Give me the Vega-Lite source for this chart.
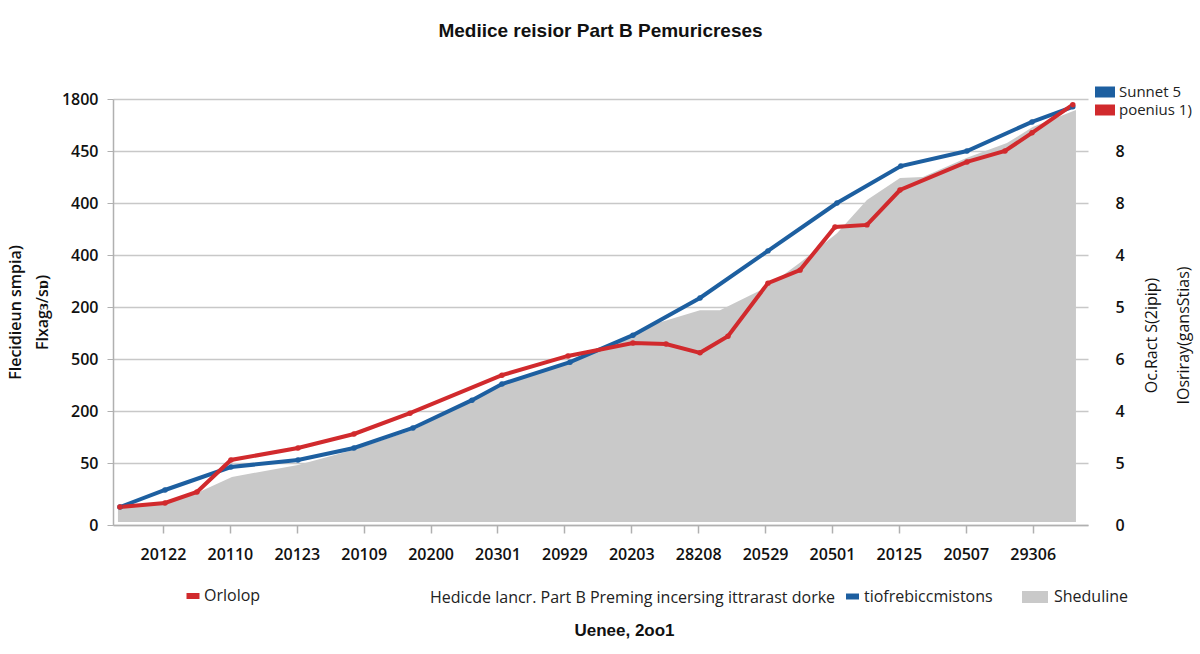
{
  "$schema": "https://vega.github.io/schema/vega-lite/v6.json",
  "width": 975,
  "height": 426,
  "autosize": {"type": "none"},
  "padding": {"left": 113, "top": 99, "right": 112, "bottom": 129},
  "background": "white",
  "config": {"view": {"stroke": null}},
  "title": {
    "text": "Mediice reisior Part B Pemuricreses",
    "font": "Liberation Sans",
    "fontSize": 19,
    "fontWeight": "bold",
    "color": "#111",
    "anchor": "middle",
    "offset": 41
  },
  "datasets": {
    "area": [
      {"t": -0.673, "v": 0.327, "g": "Sheduline"},
      {"t": 0.03, "v": 0.44, "g": "Sheduline"},
      {"t": 0.508, "v": 0.615, "g": "Sheduline"},
      {"t": 1.031, "v": 0.923, "g": "Sheduline"},
      {"t": 2.018, "v": 1.154, "g": "Sheduline"},
      {"t": 2.84, "v": 1.442, "g": "Sheduline"},
      {"t": 3.737, "v": 1.827, "g": "Sheduline"},
      {"t": 5.067, "v": 2.69, "g": "Sheduline"},
      {"t": 6.084, "v": 3.115, "g": "Sheduline"},
      {"t": 7.025, "v": 3.65, "g": "Sheduline"},
      {"t": 7.384, "v": 3.88, "g": "Sheduline"},
      {"t": 8.027, "v": 4.13, "g": "Sheduline"},
      {"t": 8.326, "v": 4.13, "g": "Sheduline"},
      {"t": 9.028, "v": 4.575, "g": "Sheduline"},
      {"t": 9.52, "v": 5.04, "g": "Sheduline"},
      {"t": 10.075, "v": 5.61, "g": "Sheduline"},
      {"t": 10.523, "v": 6.25, "g": "Sheduline"},
      {"t": 11.017, "v": 6.67, "g": "Sheduline"},
      {"t": 11.36, "v": 6.69, "g": "Sheduline"},
      {"t": 12.018, "v": 7.06, "g": "Sheduline"},
      {"t": 12.616, "v": 7.345, "g": "Sheduline"},
      {"t": 13.0, "v": 7.65, "g": "Sheduline"},
      {"t": 13.647, "v": 7.98, "g": "Sheduline"}
    ],
    "lines": [
      {"s": "Sunnet 5", "b": "Orlolop", "c": "tiofrebiccmistons", "t": -0.643, "v": 0.346},
      {"s": "Sunnet 5", "b": "Orlolop", "c": "tiofrebiccmistons", "t": 0.03, "v": 0.673},
      {"s": "Sunnet 5", "b": "Orlolop", "c": "tiofrebiccmistons", "t": 1.016, "v": 1.115},
      {"s": "Sunnet 5", "b": "Orlolop", "c": "tiofrebiccmistons", "t": 2.018, "v": 1.25},
      {"s": "Sunnet 5", "b": "Orlolop", "c": "tiofrebiccmistons", "t": 2.855, "v": 1.48},
      {"s": "Sunnet 5", "b": "Orlolop", "c": "tiofrebiccmistons", "t": 3.737, "v": 1.865},
      {"s": "Sunnet 5", "b": "Orlolop", "c": "tiofrebiccmistons", "t": 4.619, "v": 2.4},
      {"s": "Sunnet 5", "b": "Orlolop", "c": "tiofrebiccmistons", "t": 5.067, "v": 2.71},
      {"s": "Sunnet 5", "b": "Orlolop", "c": "tiofrebiccmistons", "t": 6.084, "v": 3.13},
      {"s": "Sunnet 5", "b": "Orlolop", "c": "tiofrebiccmistons", "t": 7.025, "v": 3.65},
      {"s": "Sunnet 5", "b": "Orlolop", "c": "tiofrebiccmistons", "t": 8.027, "v": 4.365},
      {"s": "Sunnet 5", "b": "Orlolop", "c": "tiofrebiccmistons", "t": 9.043, "v": 5.27},
      {"s": "Sunnet 5", "b": "Orlolop", "c": "tiofrebiccmistons", "t": 10.075, "v": 6.19},
      {"s": "Sunnet 5", "b": "Orlolop", "c": "tiofrebiccmistons", "t": 11.03, "v": 6.9},
      {"s": "Sunnet 5", "b": "Orlolop", "c": "tiofrebiccmistons", "t": 12.018, "v": 7.19},
      {"s": "Sunnet 5", "b": "Orlolop", "c": "tiofrebiccmistons", "t": 12.99, "v": 7.75},
      {"s": "Sunnet 5", "b": "Orlolop", "c": "tiofrebiccmistons", "t": 13.6, "v": 8.04},
      {"s": "poenius 1)", "b": "Orlolop", "c": "tiofrebiccmistons", "t": -0.643, "v": 0.346},
      {"s": "poenius 1)", "b": "Orlolop", "c": "tiofrebiccmistons", "t": 0.03, "v": 0.423},
      {"s": "poenius 1)", "b": "Orlolop", "c": "tiofrebiccmistons", "t": 0.508, "v": 0.635},
      {"s": "poenius 1)", "b": "Orlolop", "c": "tiofrebiccmistons", "t": 1.016, "v": 1.25},
      {"s": "poenius 1)", "b": "Orlolop", "c": "tiofrebiccmistons", "t": 2.018, "v": 1.48},
      {"s": "poenius 1)", "b": "Orlolop", "c": "tiofrebiccmistons", "t": 2.855, "v": 1.75},
      {"s": "poenius 1)", "b": "Orlolop", "c": "tiofrebiccmistons", "t": 3.692, "v": 2.15},
      {"s": "poenius 1)", "b": "Orlolop", "c": "tiofrebiccmistons", "t": 5.067, "v": 2.88},
      {"s": "poenius 1)", "b": "Orlolop", "c": "tiofrebiccmistons", "t": 6.054, "v": 3.25},
      {"s": "poenius 1)", "b": "Orlolop", "c": "tiofrebiccmistons", "t": 7.025, "v": 3.5},
      {"s": "poenius 1)", "b": "Orlolop", "c": "tiofrebiccmistons", "t": 7.519, "v": 3.48},
      {"s": "poenius 1)", "b": "Orlolop", "c": "tiofrebiccmistons", "t": 8.027, "v": 3.31},
      {"s": "poenius 1)", "b": "Orlolop", "c": "tiofrebiccmistons", "t": 8.445, "v": 3.63},
      {"s": "poenius 1)", "b": "Orlolop", "c": "tiofrebiccmistons", "t": 9.043, "v": 4.65},
      {"s": "poenius 1)", "b": "Orlolop", "c": "tiofrebiccmistons", "t": 9.522, "v": 4.9},
      {"s": "poenius 1)", "b": "Orlolop", "c": "tiofrebiccmistons", "t": 10.045, "v": 5.73},
      {"s": "poenius 1)", "b": "Orlolop", "c": "tiofrebiccmistons", "t": 10.523, "v": 5.77},
      {"s": "poenius 1)", "b": "Orlolop", "c": "tiofrebiccmistons", "t": 11.017, "v": 6.44},
      {"s": "poenius 1)", "b": "Orlolop", "c": "tiofrebiccmistons", "t": 12.018, "v": 6.98},
      {"s": "poenius 1)", "b": "Orlolop", "c": "tiofrebiccmistons", "t": 12.586, "v": 7.19},
      {"s": "poenius 1)", "b": "Orlolop", "c": "tiofrebiccmistons", "t": 12.99, "v": 7.54},
      {"s": "poenius 1)", "b": "Orlolop", "c": "tiofrebiccmistons", "t": 13.6, "v": 8.08}
    ]
  },
  "resolve": {"scale": {"y": "independent"}},
  "layer": [
    {
      "data": {"name": "area"},
      "mark": {"type": "area", "interpolate": "linear"},
      "encoding": {
        "x": {
          "field": "t",
          "type": "quantitative",
          "title": "Uenee, 2oo1",
          "scale": {"domain": [-0.747, 13.827], "nice": false, "zero": false},
          "axis": {
            "values": [0, 1, 2, 3, 4, 5, 6, 7, 8, 9, 10, 11, 12, 13],
            "labelExpr": "['20122','20110','20123','20109','20200','20301','20929','20203','28208','20529','20501','20125','20507','29306'][datum.value]",
            "grid": false,
            "domainColor": "#b0b0b0",
            "domainWidth": 1.5,
            "tickColor": "#b0b0b0",
            "tickWidth": 1.5,
            "tickSize": 8,
            "labelPadding": 13,
            "labelFont": "Open Sans",
            "labelFontSize": 16,
            "labelFontWeight": 600,
            "labelColor": "#111",
            "titleFont": "Liberation Sans",
            "titleFontSize": 17,
            "titleFontWeight": "bold",
            "titleColor": "#111",
            "titlePadding": 60,
            "titleX": 511
          }
        },
        "y": {
          "field": "v",
          "type": "quantitative",
          "title": ["Flecidieun smpia)", "Flxagɜ/sɒ)"],
          "scale": {"domain": [0, 8.19], "nice": false, "zero": false},
          "axis": {
            "values": [0, 1.19, 2.19, 3.19, 4.19, 5.19, 6.19, 7.19, 8.19],
            "labelExpr": "['0','50','200','500','200','400','400','450','1800'][datum.value < 0.5 ? 0 : round(datum.value - 0.19)]",
            "grid": true,
            "gridColor": "#c8c8c8",
            "gridWidth": 1.5,
            "domainColor": "#b0b0b0",
            "domainWidth": 1.5,
            "tickColor": "#b0b0b0",
            "tickSize": 6,
            "labelPadding": 9,
            "labelFont": "Open Sans",
            "labelFontSize": 16,
            "labelFontWeight": 600,
            "labelColor": "#111",
            "titleFont": "Open Sans",
            "titleFontSize": 16,
            "titleFontWeight": 600,
            "titleColor": "#111",
            "titleLineHeight": 27,
            "titlePadding": 11
          }
        },
        "y2": {"datum": 0.06},
        "fill": {
          "field": "g",
          "type": "nominal",
          "scale": {"domain": ["Sheduline"], "range": ["#c9c9c9"]},
          "legend": {
            "orient": "none",
            "legendX": 909,
            "legendY": 485,
            "title": null,
            "padding": 0,
            "symbolType": "M-1,-0.46H1V0.46H-1Z",
            "symbolSize": 676,
            "symbolStrokeWidth": 0,
            "labelOffset": 6,
            "labelFont": "Open Sans",
            "labelFontSize": 16,
            "labelColor": "#222"
          }
        }
      }
    },
    {
      "data": {"name": "lines"},
      "layer": [
        {
          "transform": [{"filter": "datum.s == 'Sunnet 5'"}],
          "mark": {"type": "line", "interpolate": "linear", "color": "#1d5fa0"},
          "encoding": {
            "x": {
              "field": "t",
              "type": "quantitative",
              "title": "Uenee, 2oo1",
              "scale": {"domain": [-0.747, 13.827], "nice": false, "zero": false}
            },
            "y": {
              "field": "v",
              "type": "quantitative",
              "title": ["Oc.Ract S(2ipip)", "IOsriray(gansStias)"],
              "scale": {"domain": [0, 8.19], "nice": false, "zero": false},
              "axis": {
                "orient": "right",
                "values": [0, 1.19, 2.19, 3.19, 4.19, 5.19, 6.19, 7.19, 8.19],
                "labelExpr": "['0','5','4','6','5','4','8','8',''][datum.value < 0.5 ? 0 : round(datum.value - 0.19)]",
                "grid": false,
                "domain": false,
                "ticks": false,
                "labelPadding": 27,
                "labelFont": "Open Sans",
                "labelFontSize": 16,
                "labelFontWeight": 600,
                "labelColor": "#111",
                "titleFont": "Open Sans",
                "titleFontSize": 16,
                "titleFontWeight": 500,
                "titleColor": "#111",
                "titleAngle": 270,
                "titleLineHeight": 32,
                "titlePadding": 3,
                "titleY": 236
              }
            },
            "strokeWidth": {
              "field": "c",
              "type": "ordinal",
              "scale": {"domain": ["tiofrebiccmistons"], "range": [4, 4]},
              "legend": {
                "orient": "none",
                "legendX": 317,
                "legendY": 489,
                "title": "Hedicde lancr. Part B Preming incersing ittrarast dorke",
                "titleOrient": "left",
                "titleFont": "Open Sans",
                "titleFontSize": 16,
                "titleFontWeight": "normal",
                "titleColor": "#222",
                "titleLimit": 600,
                "titlePadding": 8,
                "padding": 0,
                "symbolType": "M-1,-0.46H1V0.46H-1Z",
                "symbolSize": 169,
                "symbolFillColor": "#1d5fa0",
                "symbolStrokeColor": "#1d5fa0",
                "symbolStrokeWidth": 0,
                "labelOffset": 3,
                "labelFont": "Open Sans",
                "labelFontSize": 16,
                "labelColor": "#222",
                "encode": {"symbols": {"update": {"fill": {"value": "#1d5fa0"}, "fillOpacity": {"value": 1}, "strokeWidth": {"value": 0}, "opacity": {"value": 1}}}}
              }
            }
          }
        },
        {
          "transform": [{"filter": "datum.s == 'poenius 1)'"}],
          "mark": {"type": "line", "interpolate": "linear", "color": "#d12a2d", "strokeWidth": 4},
          "encoding": {
            "x": {
              "field": "t",
              "type": "quantitative",
              "title": "Uenee, 2oo1",
              "scale": {"domain": [-0.747, 13.827], "nice": false, "zero": false}
            },
            "y": {
              "field": "v",
              "type": "quantitative",
              "title": ["Oc.Ract S(2ipip)", "IOsriray(gansStias)"],
              "scale": {"domain": [0, 8.19], "nice": false, "zero": false}
            },
            "opacity": {
              "field": "b",
              "type": "ordinal",
              "scale": {"domain": ["Orlolop"], "range": [1, 1]},
              "legend": {
                "orient": "none",
                "legendX": 72,
                "legendY": 489,
                "title": null,
                "padding": 0,
                "symbolType": "M-1,-0.46H1V0.46H-1Z",
                "symbolSize": 169,
                "symbolFillColor": "#d12a2d",
                "symbolStrokeColor": "#d12a2d",
                "symbolStrokeWidth": 0,
                "labelOffset": 3,
                "labelFont": "Open Sans",
                "labelFontSize": 16,
                "labelColor": "#222",
                "encode": {"symbols": {"update": {"fill": {"value": "#d12a2d"}, "fillOpacity": {"value": 1}, "strokeWidth": {"value": 0}, "opacity": {"value": 1}}}}
              }
            }
          }
        },
        {
          "mark": {"type": "point", "filled": true, "size": 30, "opacity": 1},
          "encoding": {
            "x": {
              "field": "t",
              "type": "quantitative",
              "title": "Uenee, 2oo1",
              "scale": {"domain": [-0.747, 13.827], "nice": false, "zero": false}
            },
            "y": {
              "field": "v",
              "type": "quantitative",
              "title": ["Oc.Ract S(2ipip)", "IOsriray(gansStias)"],
              "scale": {"domain": [0, 8.19], "nice": false, "zero": false}
            },
            "color": {
              "field": "s",
              "type": "nominal",
              "scale": {"domain": ["Sunnet 5", "poenius 1)"], "range": ["#1d5fa0", "#d12a2d"]},
              "legend": {
                "orient": "none",
                "legendX": 982,
                "legendY": -17,
                "title": null,
                "padding": 0,
                "symbolType": "M-1,-0.55H1V0.55H-1Z",
                "symbolSize": 400,
                "symbolStrokeWidth": 0,
                "rowPadding": 0,
                "labelOffset": 4,
                "labelFont": "Open Sans",
                "labelFontSize": 15,
                "labelColor": "#222"
              }
            }
          }
        }
      ]
    }
  ]
}
